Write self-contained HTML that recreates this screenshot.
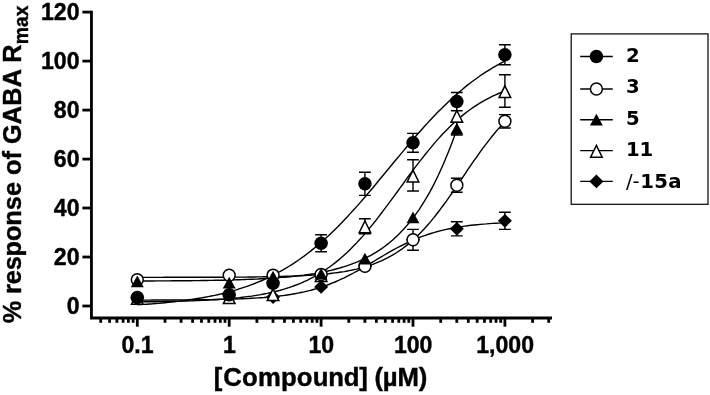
<!DOCTYPE html>
<html><head><meta charset="utf-8"><title>Concentration-response curves</title>
<style>
html,body{margin:0;padding:0;background:#fff;}
body{width:710px;height:395px;overflow:hidden;}
svg{display:block;filter:blur(0.35px);}
.cv{fill:none;stroke:#000;stroke-width:1.4;stroke-linecap:butt;stroke-linejoin:round;}
.eb{fill:none;stroke:#000;stroke-width:1.4;}
.fm{fill:#000;stroke:none;}
.om{fill:#fff;stroke:#000;stroke-width:1.5;stroke-linejoin:miter;}
.ax{fill:none;stroke:#000;stroke-width:2.8;stroke-linecap:butt;stroke-linejoin:miter;}
.tl{font-family:"Liberation Sans",Arial,sans-serif;font-weight:bold;font-size:23.1px;fill:#000;stroke:#000;stroke-width:0.4px;}
.tt{font-family:"Liberation Sans",Arial,sans-serif;font-weight:bold;font-size:25.3px;fill:#000;stroke:#000;stroke-width:0.4px;}
.ty{font-family:"Liberation Sans",Arial,sans-serif;font-weight:bold;font-size:25.3px;fill:#000;stroke:#000;stroke-width:0.4px;}
.lt{font-family:"DejaVu Sans",Verdana,sans-serif;font-weight:bold;font-size:19.7px;fill:#000;}
.sl{font-weight:normal;}
</style></head>
<body>
<svg width="710" height="395" viewBox="0 0 710 395">
<rect width="710" height="395" fill="#fff"/>
<path class="ax" d="M91.45 10.7V318H552"/>
<path class="ax" d="M82.4 306.0H91.45"/>
<text class="tl" x="79.5" y="313.9" text-anchor="end">0</text>
<path class="ax" d="M82.4 257.0H91.45"/>
<text class="tl" x="79.5" y="264.9" text-anchor="end">20</text>
<path class="ax" d="M82.4 208.0H91.45"/>
<text class="tl" x="79.5" y="215.9" text-anchor="end">40</text>
<path class="ax" d="M82.4 159.1H91.45"/>
<text class="tl" x="79.5" y="167.0" text-anchor="end">60</text>
<path class="ax" d="M82.4 110.1H91.45"/>
<text class="tl" x="79.5" y="118.0" text-anchor="end">80</text>
<path class="ax" d="M82.4 61.1H91.45"/>
<text class="tl" x="79.5" y="69.0" text-anchor="end">100</text>
<path class="ax" d="M82.4 12.1H91.45"/>
<text class="tl" x="79.5" y="20.0" text-anchor="end">120</text>
<path class="ax" d="M100.7 318V322.8"/>
<path class="ax" d="M109.6 318V322.8"/>
<path class="ax" d="M116.9 318V322.8"/>
<path class="ax" d="M123.1 318V322.8"/>
<path class="ax" d="M128.4 318V322.8"/>
<path class="ax" d="M133.1 318V322.8"/>
<path class="ax" d="M137.3 318V326.7"/>
<path class="ax" d="M165.0 318V322.8"/>
<path class="ax" d="M181.1 318V322.8"/>
<path class="ax" d="M192.6 318V322.8"/>
<path class="ax" d="M201.5 318V322.8"/>
<path class="ax" d="M208.8 318V322.8"/>
<path class="ax" d="M215.0 318V322.8"/>
<path class="ax" d="M220.3 318V322.8"/>
<path class="ax" d="M225.0 318V322.8"/>
<path class="ax" d="M229.2 318V326.7"/>
<path class="ax" d="M256.9 318V322.8"/>
<path class="ax" d="M273.0 318V322.8"/>
<path class="ax" d="M284.5 318V322.8"/>
<path class="ax" d="M293.4 318V322.8"/>
<path class="ax" d="M300.7 318V322.8"/>
<path class="ax" d="M306.9 318V322.8"/>
<path class="ax" d="M312.2 318V322.8"/>
<path class="ax" d="M316.9 318V322.8"/>
<path class="ax" d="M321.1 318V326.7"/>
<path class="ax" d="M348.8 318V322.8"/>
<path class="ax" d="M364.9 318V322.8"/>
<path class="ax" d="M376.4 318V322.8"/>
<path class="ax" d="M385.3 318V322.8"/>
<path class="ax" d="M392.6 318V322.8"/>
<path class="ax" d="M398.8 318V322.8"/>
<path class="ax" d="M404.1 318V322.8"/>
<path class="ax" d="M408.8 318V322.8"/>
<path class="ax" d="M413.0 318V326.7"/>
<path class="ax" d="M440.7 318V322.8"/>
<path class="ax" d="M456.8 318V322.8"/>
<path class="ax" d="M468.3 318V322.8"/>
<path class="ax" d="M477.2 318V322.8"/>
<path class="ax" d="M484.5 318V322.8"/>
<path class="ax" d="M490.7 318V322.8"/>
<path class="ax" d="M496.0 318V322.8"/>
<path class="ax" d="M500.7 318V322.8"/>
<path class="ax" d="M504.9 318V326.7"/>
<path class="ax" d="M532.6 318V322.8"/>
<path class="ax" d="M548.7 318V322.8"/>
<text class="tl" x="137.5" y="352.5" text-anchor="middle">0.1</text>
<text class="tl" x="229.4" y="352.5" text-anchor="middle">1</text>
<text class="tl" x="321.3" y="352.5" text-anchor="middle">10</text>
<text class="tl" x="413.2" y="352.5" text-anchor="middle">100</text>
<text class="tl" x="505.1" y="352.5" text-anchor="middle">1,000</text>
<text class="tt" transform="translate(320.5 386) scale(1.016 0.988)" text-anchor="middle" dx="0 1 .15 .15 .15 .15 .15 -.2 -.2 -.2 -.2 -.2 -.2 -.2 -.2">[Compound] (µM)</text>
<text class="ty" transform="translate(21 164.4) rotate(-90)" text-anchor="middle" dx="0 -.15 -.15 -.15 -.15 -.15 -.15 0 0 0 0 0 0 0 0 .16 .16 .16 .16 .16">% response of GABA R<tspan font-size="19.3" dx="0.16" dy="7.2">max</tspan></text>
<polyline class="cv" points="137.3,300.1 140.4,300.1 143.5,300.1 146.6,300.1 149.7,300.1 152.7,300.0 155.8,300.0 158.9,300.0 162.0,300.0 165.1,300.0 168.2,300.0 171.3,300.0 174.4,300.0 177.5,299.9 180.5,299.9 183.6,299.9 186.7,299.9 189.8,299.8 192.9,299.8 196.0,299.8 199.1,299.8 202.2,299.7 205.3,299.7 208.3,299.6 211.4,299.6 214.5,299.5 217.6,299.5 220.7,299.4 223.8,299.3 226.9,299.3 230.0,299.2 233.1,299.1 236.2,299.0 239.2,298.9 242.3,298.7 245.4,298.6 248.5,298.5 251.6,298.3 254.7,298.1 257.8,297.9 260.9,297.7 264.0,297.5 267.0,297.2 270.1,297.0 273.2,296.7 276.3,296.3 279.4,296.0 282.5,295.6 285.6,295.2 288.7,294.7 291.8,294.3 294.8,293.7 297.9,293.1 301.0,292.5 304.1,291.9 307.2,291.1 310.3,290.4 313.4,289.5 316.5,288.6 319.6,287.7 322.6,286.7 325.7,285.6 328.8,284.5 331.9,283.2 335.0,282.0 338.1,280.6 341.2,279.2 344.3,277.8 347.4,276.2 350.4,274.6 353.5,273.0 356.6,271.3 359.7,269.6 362.8,267.8 365.9,266.0 369.0,264.2 372.1,262.3 375.2,260.5 378.2,258.7 381.3,256.8 384.4,255.0 387.5,253.2 390.6,251.4 393.7,249.7 396.8,248.0 399.9,246.4 403.0,244.8 406.0,243.3 409.1,241.9 412.2,240.5 415.3,239.1 418.4,237.9 421.5,236.7 424.6,235.6 427.7,234.5 430.8,233.5 433.9,232.6 436.9,231.7 440.0,230.9 443.1,230.1 446.2,229.4 449.3,228.7 452.4,228.1 455.5,227.6 458.6,227.0 461.7,226.6 464.7,226.1 467.8,225.7 470.9,225.3 474.0,225.0 477.1,224.7 480.2,224.4 483.3,224.1 486.4,223.9 489.5,223.6 492.5,223.4 495.6,223.2 498.7,223.1 501.8,222.9 504.9,222.8"/>
<polyline class="cv" points="137.3,301.9 140.4,301.9 143.5,301.8 146.6,301.8 149.7,301.7 152.7,301.7 155.8,301.7 158.9,301.6 162.0,301.6 165.1,301.5 168.2,301.4 171.3,301.4 174.4,301.3 177.5,301.2 180.5,301.1 183.6,301.1 186.7,301.0 189.8,300.9 192.9,300.8 196.0,300.6 199.1,300.5 202.2,300.4 205.3,300.2 208.3,300.1 211.4,299.9 214.5,299.7 217.6,299.5 220.7,299.3 223.8,299.1 226.9,298.8 230.0,298.6 233.1,298.3 236.2,298.0 239.2,297.7 242.3,297.3 245.4,296.9 248.5,296.5 251.6,296.1 254.7,295.6 257.8,295.1 260.9,294.6 264.0,294.0 267.0,293.4 270.1,292.7 273.2,292.0 276.3,291.3 279.4,290.5 282.5,289.6 285.6,288.7 288.7,287.7 291.8,286.6 294.8,285.5 297.9,284.3 301.0,283.1 304.1,281.7 307.2,280.3 310.3,278.7 313.4,277.1 316.5,275.4 319.6,273.6 322.6,271.7 325.7,269.6 328.8,267.5 331.9,265.2 335.0,262.9 338.1,260.4 341.2,257.7 344.3,255.0 347.4,252.2 350.4,249.2 353.5,246.1 356.6,242.9 359.7,239.5 362.8,236.1 365.9,232.5 369.0,228.9 372.1,225.1 375.2,221.3 378.2,217.3 381.3,213.3 384.4,209.2 387.5,205.1 390.6,200.9 393.7,196.7 396.8,192.5 399.9,188.2 403.0,184.0 406.0,179.7 409.1,175.5 412.2,171.4 415.3,167.2 418.4,163.1 421.5,159.1 424.6,155.2 427.7,151.4 430.8,147.6 433.9,143.9 436.9,140.4 440.0,136.9 443.1,133.6 446.2,130.4 449.3,127.3 452.4,124.3 455.5,121.5 458.6,118.7 461.7,116.1 464.7,113.6 467.8,111.3 470.9,109.0 474.0,106.9 477.1,104.8 480.2,102.9 483.3,101.1 486.4,99.4 489.5,97.8 492.5,96.2 495.6,94.8 498.7,93.5 501.8,92.2 504.9,91.0"/>
<polyline class="cv" points="137.3,277.4 140.4,277.4 143.5,277.4 146.6,277.4 149.7,277.4 152.7,277.4 155.8,277.4 158.9,277.4 162.0,277.4 165.1,277.3 168.2,277.3 171.3,277.3 174.4,277.3 177.5,277.3 180.5,277.3 183.6,277.3 186.7,277.3 189.8,277.3 192.9,277.3 196.0,277.3 199.1,277.3 202.2,277.3 205.3,277.3 208.3,277.3 211.4,277.3 214.5,277.2 217.6,277.2 220.7,277.2 223.8,277.2 226.9,277.2 230.0,277.2 233.1,277.2 236.2,277.1 239.2,277.1 242.3,277.1 245.4,277.1 248.5,277.0 251.6,277.0 254.7,277.0 257.8,276.9 260.9,276.9 264.0,276.8 267.0,276.8 270.1,276.7 273.2,276.6 276.3,276.6 279.4,276.5 282.5,276.4 285.6,276.3 288.7,276.2 291.8,276.1 294.8,276.0 297.9,275.9 301.0,275.7 304.1,275.6 307.2,275.4 310.3,275.2 313.4,275.0 316.5,274.8 319.6,274.5 322.6,274.3 325.7,274.0 328.8,273.7 331.9,273.3 335.0,272.9 338.1,272.5 341.2,272.0 344.3,271.6 347.4,271.0 350.4,270.4 353.5,269.8 356.6,269.1 359.7,268.3 362.8,267.5 365.9,266.6 369.0,265.6 372.1,264.6 375.2,263.4 378.2,262.2 381.3,260.9 384.4,259.4 387.5,257.9 390.6,256.2 393.7,254.4 396.8,252.5 399.9,250.4 403.0,248.2 406.0,245.9 409.1,243.4 412.2,240.7 415.3,237.9 418.4,234.9 421.5,231.8 424.6,228.5 427.7,225.0 430.8,221.4 433.9,217.6 436.9,213.7 440.0,209.7 443.1,205.5 446.2,201.3 449.3,196.9 452.4,192.5 455.5,188.0 458.6,183.4 461.7,178.8 464.7,174.3 467.8,169.7 470.9,165.2 474.0,160.7 477.1,156.3 480.2,151.9 483.3,147.7 486.4,143.6 489.5,139.6 492.5,135.7 495.6,132.0 498.7,128.4 501.8,125.0 504.9,121.8"/>
<polyline class="cv" points="137.3,281.0 140.0,281.0 142.7,281.0 145.4,281.0 148.0,281.0 150.7,281.0 153.4,281.0 156.1,280.9 158.8,280.9 161.5,280.9 164.2,280.9 166.8,280.9 169.5,280.9 172.2,280.8 174.9,280.8 177.6,280.8 180.3,280.8 182.9,280.8 185.6,280.7 188.3,280.7 191.0,280.7 193.7,280.6 196.4,280.6 199.1,280.6 201.7,280.5 204.4,280.5 207.1,280.5 209.8,280.4 212.5,280.4 215.2,280.3 217.9,280.3 220.5,280.2 223.2,280.2 225.9,280.1 228.6,280.0 231.3,280.0 234.0,279.9 236.7,279.8 239.3,279.7 242.0,279.6 244.7,279.5 247.4,279.4 250.1,279.3 252.8,279.2 255.5,279.1 258.1,279.0 260.8,278.8 263.5,278.7 266.2,278.5 268.9,278.4 271.6,278.2 274.2,278.0 276.9,277.8 279.6,277.6 282.3,277.4 285.0,277.2 287.7,277.0 290.4,276.7 293.0,276.4 295.7,276.1 298.4,275.8 301.1,275.5 303.8,275.2 306.5,274.8 309.2,274.4 311.8,274.0 314.5,273.6 317.2,273.1 319.9,272.6 322.6,272.1 325.3,271.6 328.0,271.0 330.6,270.4 333.3,269.7 336.0,269.0 338.7,268.3 341.4,267.5 344.1,266.7 346.8,265.8 349.4,264.9 352.1,263.9 354.8,262.9 357.5,261.8 360.2,260.6 362.9,259.4 365.5,258.1 368.2,256.7 370.9,255.3 373.6,253.7 376.3,252.1 379.0,250.4 381.7,248.6 384.3,246.7 387.0,244.6 389.7,242.5 392.4,240.2 395.1,237.8 397.8,235.3 400.5,232.6 403.1,229.8 405.8,226.8 408.5,223.6 411.2,220.3 413.9,216.8 416.6,213.1 419.3,209.3 421.9,205.2 424.6,200.9 427.3,196.3 430.0,191.6 432.7,186.6 435.4,181.3 438.1,175.8 440.7,170.0 443.4,164.0 446.1,157.6 448.8,151.0 451.5,144.0 454.2,136.7 456.8,129.1"/>
<polyline class="cv" points="137.3,304.8 140.4,304.6 143.5,304.4 146.6,304.2 149.7,304.0 152.7,303.8 155.8,303.5 158.9,303.3 162.0,303.0 165.1,302.7 168.2,302.4 171.3,302.1 174.4,301.7 177.5,301.4 180.5,301.0 183.6,300.6 186.7,300.2 189.8,299.8 192.9,299.3 196.0,298.8 199.1,298.3 202.2,297.8 205.3,297.2 208.3,296.6 211.4,296.0 214.5,295.4 217.6,294.7 220.7,294.0 223.8,293.2 226.9,292.5 230.0,291.6 233.1,290.8 236.2,289.9 239.2,288.9 242.3,287.9 245.4,286.9 248.5,285.8 251.6,284.7 254.7,283.5 257.8,282.2 260.9,281.0 264.0,279.6 267.0,278.2 270.1,276.7 273.2,275.2 276.3,273.6 279.4,271.9 282.5,270.2 285.6,268.4 288.7,266.5 291.8,264.6 294.8,262.6 297.9,260.5 301.0,258.3 304.1,256.1 307.2,253.7 310.3,251.4 313.4,248.9 316.5,246.3 319.6,243.7 322.6,241.0 325.7,238.2 328.8,235.4 331.9,232.4 335.0,229.4 338.1,226.4 341.2,223.2 344.3,220.0 347.4,216.8 350.4,213.4 353.5,210.0 356.6,206.6 359.7,203.1 362.8,199.5 365.9,196.0 369.0,192.3 372.1,188.7 375.2,185.0 378.2,181.3 381.3,177.5 384.4,173.8 387.5,170.0 390.6,166.3 393.7,162.5 396.8,158.8 399.9,155.1 403.0,151.4 406.0,147.7 409.1,144.0 412.2,140.4 415.3,136.8 418.4,133.2 421.5,129.7 424.6,126.3 427.7,122.9 430.8,119.6 433.9,116.3 436.9,113.1 440.0,109.9 443.1,106.9 446.2,103.9 449.3,100.9 452.4,98.1 455.5,95.3 458.6,92.6 461.7,90.0 464.7,87.4 467.8,84.9 470.9,82.5 474.0,80.2 477.1,78.0 480.2,75.8 483.3,73.7 486.4,71.7 489.5,69.8 492.5,67.9 495.6,66.1 498.7,64.4 501.8,62.7 504.9,61.1"/>
<path d="M137.30 290.70L144.30 297.60L137.30 304.50L130.30 297.60Z" class="fm"/>
<path d="M229.20 287.90L236.20 294.80L229.20 301.70L222.20 294.80Z" class="fm"/>
<path d="M273.05 290.20L280.05 297.10L273.05 304.00L266.05 297.10Z" class="fm"/>
<path d="M321.10 280.00L328.10 286.90L321.10 293.80L314.10 286.90Z" class="fm"/>
<path d="M364.95 259.40L371.95 266.30L364.95 273.20L357.95 266.30Z" class="fm"/>
<path d="M413.00 232.90L420.00 239.80L413.00 246.70L406.00 239.80Z" class="fm"/>
<path class="eb" d="M456.8 221.7V235.9M450.9 221.7H462.7M450.9 235.9H462.7"/>
<path d="M456.85 221.90L463.85 228.80L456.85 235.70L449.85 228.80Z" class="fm"/>
<path class="eb" d="M504.9 212.2V229.4M499.0 212.2H510.8M499.0 229.4H510.8"/>
<path d="M504.90 213.90L511.90 220.80L504.90 227.70L497.90 220.80Z" class="fm"/>
<path d="M137.30 292.50L143.10 304.25L131.50 304.25Z" class="om"/>
<path d="M229.20 291.80L235.00 303.55L223.40 303.55Z" class="om"/>
<path d="M273.05 288.80L278.85 300.55L267.25 300.55Z" class="om"/>
<path d="M321.10 269.70L326.90 281.45L315.30 281.45Z" class="om"/>
<path class="eb" d="M364.9 218.7V233.7M359.0 218.7H370.8M359.0 233.7H370.8"/>
<path d="M364.95 221.00L370.75 232.75L359.15 232.75Z" class="om"/>
<path class="eb" d="M413.0 159.8V191.0M407.1 159.8H418.9M407.1 191.0H418.9"/>
<path d="M413.00 170.20L418.80 181.95L407.20 181.95Z" class="om"/>
<path d="M456.85 110.50L462.65 122.25L451.05 122.25Z" class="om"/>
<path class="eb" d="M504.9 74.8V107.2M499.0 74.8H510.8M499.0 107.2H510.8"/>
<path d="M504.90 85.80L510.70 97.55L499.10 97.55Z" class="om"/>
<circle cx="137.30" cy="279.80" r="5.95" class="om"/>
<circle cx="229.20" cy="275.20" r="5.95" class="om"/>
<circle cx="273.05" cy="275.10" r="5.95" class="om"/>
<circle cx="321.10" cy="274.50" r="5.95" class="om"/>
<circle cx="364.95" cy="266.30" r="5.95" class="om"/>
<path class="eb" d="M413.0 229.4V250.2M407.1 229.4H418.9M407.1 250.2H418.9"/>
<circle cx="413.00" cy="239.80" r="5.95" class="om"/>
<path class="eb" d="M456.8 178.3V192.3M450.9 178.3H462.7M450.9 192.3H462.7"/>
<circle cx="456.85" cy="185.30" r="5.95" class="om"/>
<path class="eb" d="M504.9 114.6V128.0M499.0 114.6H510.8M499.0 128.0H510.8"/>
<circle cx="504.90" cy="121.30" r="5.95" class="om"/>
<path d="M137.30 275.60L143.75 287.30L130.85 287.30Z" class="fm"/>
<path d="M229.20 276.80L235.65 288.50L222.75 288.50Z" class="fm"/>
<path d="M273.05 270.80L279.50 282.50L266.60 282.50Z" class="fm"/>
<path d="M321.10 267.90L327.55 279.60L314.65 279.60Z" class="fm"/>
<path d="M364.95 252.70L371.40 264.40L358.50 264.40Z" class="fm"/>
<path d="M413.00 211.50L419.45 223.20L406.55 223.20Z" class="fm"/>
<path class="eb" d="M456.8 122.4V135.0M450.9 122.4H462.7M450.9 135.0H462.7"/>
<path d="M456.85 122.80L463.30 134.50L450.40 134.50Z" class="fm"/>
<circle cx="137.30" cy="297.60" r="6.75" class="fm"/>
<circle cx="229.20" cy="294.80" r="6.75" class="fm"/>
<circle cx="273.05" cy="283.30" r="6.75" class="fm"/>
<path class="eb" d="M321.1 234.8V251.8M315.2 234.8H327.0M315.2 251.8H327.0"/>
<circle cx="321.10" cy="243.30" r="6.75" class="fm"/>
<path class="eb" d="M364.9 172.2V195.4M359.0 172.2H370.8M359.0 195.4H370.8"/>
<circle cx="364.95" cy="183.80" r="6.75" class="fm"/>
<path class="eb" d="M413.0 133.4V152.2M407.1 133.4H418.9M407.1 152.2H418.9"/>
<circle cx="413.00" cy="142.80" r="6.75" class="fm"/>
<path class="eb" d="M456.8 92.5V110.7M450.9 92.5H462.7M450.9 110.7H462.7"/>
<circle cx="456.85" cy="101.60" r="6.75" class="fm"/>
<path class="eb" d="M504.9 44.8V64.8M499.0 44.8H510.8M499.0 64.8H510.8"/>
<circle cx="504.90" cy="54.80" r="6.75" class="fm"/>
<rect x="571.2" y="33.9" width="136.8" height="170.4" fill="#fff" stroke="#000" stroke-width="1.2"/>
<path class="cv" d="M580.2 56.5H612.8"/>
<circle cx="596.40" cy="56.50" r="6.75" class="fm"/>
<text class="lt" x="625.9" y="61.6">2</text>
<path class="cv" d="M580.2 89.0H612.8"/>
<circle cx="596.40" cy="89.00" r="5.95" class="om"/>
<text class="lt" x="625.9" y="93.4">3</text>
<path class="cv" d="M580.2 119.7H612.8"/>
<path d="M596.40 113.80L602.85 125.50L589.95 125.50Z" class="fm"/>
<text class="lt" x="625.9" y="124.7">5</text>
<path class="cv" d="M580.2 150.6H612.8"/>
<path d="M596.40 145.40L602.20 157.15L590.60 157.15Z" class="om"/>
<text class="lt" x="625.9" y="156.4">11</text>
<path class="cv" d="M580.2 181.4H612.8"/>
<path d="M596.40 174.50L603.40 181.40L596.40 188.30L589.40 181.40Z" class="fm"/>
<text class="lt" x="625.9" y="188.2"><tspan class="sl">/-</tspan><tspan dx="0.5 0.3 0.3">15a</tspan></text>
</svg>
</body></html>
